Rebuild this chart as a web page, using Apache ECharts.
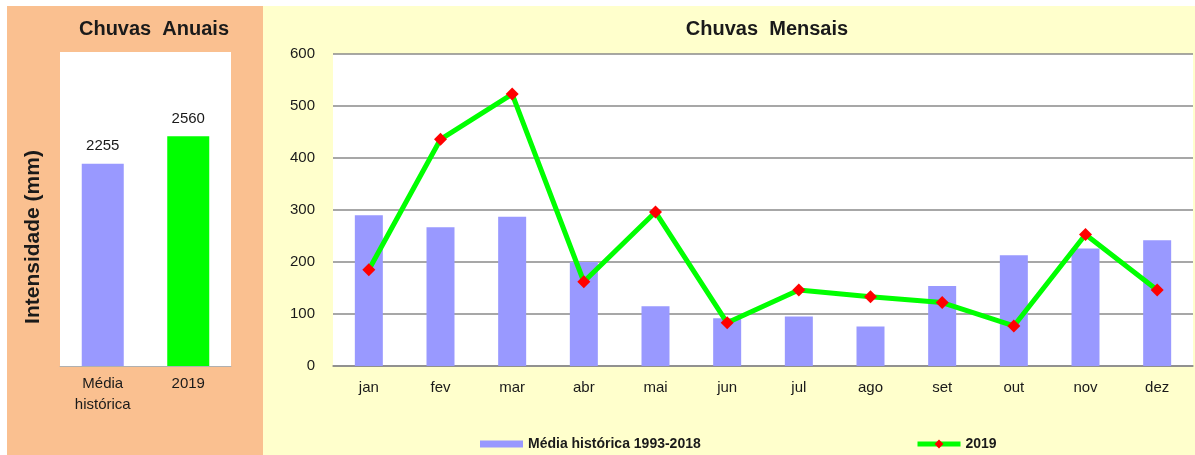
<!DOCTYPE html>
<html><head><meta charset="utf-8">
<script src="https://cdn.jsdelivr.net/npm/echarts@6/dist/echarts.min.js"></script>
<style>html,body{margin:0;padding:0;background:#fff}#c{width:1195px;height:455px}</style>
</head><body><div id="c"></div>
<script>
const annualCategories = ['Média\nhistórica', '2019'];
const annualValues = [2255, 2560];
const months = ['jan','fev','mar','abr','mai','jun','jul','ago','set','out','nov','dez'];
const mediaHistorica = [290, 267, 287, 200, 115, 92, 95, 76, 154, 213, 226, 242];
const chuva2019 = [185, 436, 523, 162, 296, 83, 146, 133, 122, 77, 253, 146];
const seriesNames = ['Média histórica 1993-2018', '2019'];

const chart = echarts.init(document.getElementById('c'), null, {renderer: 'canvas'});
const TXT = '#1a1a1a';
const FONT = 'Liberation Sans';
chart.setOption({
  animation: false,
  backgroundColor: '#ffffff',
  graphic: [
    {type: 'rect', z: -10, shape: {x: 7, y: 6, width: 256, height: 449}, style: {fill: '#FAC090'}},
    {type: 'rect', z: -10, shape: {x: 263, y: 6, width: 932, height: 449}, style: {fill: '#FFFFCC'}},
    {type: 'text', x: 33, y: 237, rotation: Math.PI / 2,
     style: {text: 'Intensidade (mm)', fill: TXT, font: 'bold 21px "Liberation Sans"', align: 'center', verticalAlign: 'middle'}}
  ],
  title: [
    {text: 'Chuvas  Anuais', left: 149, top: 14, textAlign: 'center',
     textStyle: {fontFamily: FONT, fontWeight: 'bold', fontSize: 20, color: TXT}},
    {text: 'Chuvas  Mensais', left: 762, top: 14, textAlign: 'center',
     textStyle: {fontFamily: FONT, fontWeight: 'bold', fontSize: 20, color: TXT}}
  ],
  legend: [
    {left: 475, top: 432, itemWidth: 43, itemHeight: 7, itemGap: 0,
     data: [{name: seriesNames[0], icon: 'rect'}],
     textStyle: {fontFamily: FONT, fontWeight: 'bold', fontSize: 14, color: TXT}},
    {left: 910, top: 432, itemWidth: 43, itemHeight: 11, itemGap: 0,
     lineStyle: {width: 5},
     data: [seriesNames[1]],
     textStyle: {fontFamily: FONT, fontWeight: 'bold', fontSize: 14, color: TXT}}
  ],
  grid: [
    {left: 60, top: 52, width: 171, height: 314, show: true, backgroundColor: '#ffffff', borderWidth: 0, containLabel: false},
    {left: 333, top: 54, width: 860, height: 312, show: true, backgroundColor: '#ffffff', borderWidth: 0, containLabel: false}
  ],
  xAxis: [
    {type: 'category', gridIndex: 0, data: annualCategories,
     axisLine: {lineStyle: {color: '#b0b0b0'}}, axisTick: {show: false},
     axisLabel: {margin: 7, fontFamily: FONT, fontSize: 15, color: TXT, lineHeight: 21}},
    {type: 'category', gridIndex: 1, data: months,
     axisLine: {lineStyle: {color: '#8a8a8a', width: 1.5}}, axisTick: {show: false},
     axisLabel: {margin: 14, fontFamily: FONT, fontSize: 15, color: TXT}}
  ],
  yAxis: [
    {type: 'value', gridIndex: 0, min: 0, max: 3500, show: false, splitLine: {show: false}},
    {type: 'value', gridIndex: 1, min: 0, max: 600, interval: 100,
     axisLine: {show: false}, axisTick: {show: false},
     axisLabel: {margin: 18, fontFamily: FONT, fontSize: 15, color: TXT},
     splitLine: {lineStyle: {color: '#8a8a8a', width: 1.5}}}
  ],
  series: [
    {type: 'bar', xAxisIndex: 0, yAxisIndex: 0, barWidth: 42,
     data: annualValues.map((v, i) => ({value: v, itemStyle: {color: i === 0 ? '#9999FF' : '#00FF00'}})),
     label: {show: true, position: 'top', distance: 10, fontFamily: FONT, fontSize: 15, color: TXT}},
    {name: seriesNames[0], type: 'bar', xAxisIndex: 1, yAxisIndex: 1, barWidth: 28,
     itemStyle: {color: '#9999FF'}, data: mediaHistorica},
    {name: seriesNames[1], type: 'line', xAxisIndex: 1, yAxisIndex: 1,
     lineStyle: {color: '#00FF00', width: 5}, itemStyle: {color: '#FF0000'},
     symbol: 'diamond', symbolSize: 13, z: 5, data: chuva2019}
  ]
});
</script></body></html>
